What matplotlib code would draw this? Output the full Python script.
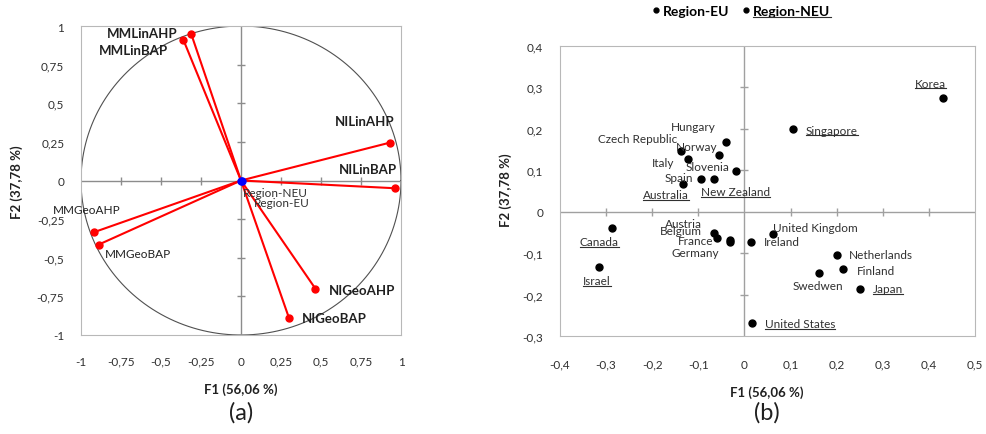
import matplotlib
matplotlib.use('Agg')
import matplotlib.pyplot as plt
from matplotlib.lines import Line2D
from matplotlib.ticker import FuncFormatter
import numpy as np

plt.rcParams['font.family'] = ['Lato', 'DejaVu Sans']

# (a) correlation circle - active variables
var_names = ['MMLinAHP', 'MMLinBAP', 'NILinAHP', 'NILinBAP',
             'MMGeoAHP', 'MMGeoBAP', 'NIGeoAHP', 'NIGeoBAP']
var_f1 = [-0.31, -0.36, 0.93, 0.96, -0.92, -0.89, 0.465, 0.30]
var_f2 = [0.945, 0.91, 0.245, -0.05, -0.335, -0.415, -0.70, -0.89]
# supplementary variables
sup_names = ['Region-NEU', 'Region-EU']
sup_f1 = [0.0, 0.005]
sup_f2 = [0.0, -0.005]

# (b) observations
eu_names = ['Hungary', 'Czech Republic', 'Norway', 'Italy', 'Slovenia', 'Spain',
            'Austria', 'Belgium', 'France', 'Germany', 'Ireland', 'United Kingdom',
            'Netherlands', 'Finland', 'Swedwen']
eu_f1 = [-0.040, -0.137, -0.055, -0.123, -0.018, -0.094,
         -0.065, -0.059, -0.032, -0.032, 0.014, 0.063,
         0.201, 0.213, 0.161]
eu_f2 = [0.168, 0.146, 0.136, 0.127, 0.099, 0.080,
         -0.051, -0.063, -0.067, -0.074, -0.072, -0.053,
         -0.104, -0.139, -0.148]
neu_names = ['Korea', 'Singapore', 'New Zealand', 'Australia', 'Canada',
             'Israel', 'Japan', 'United States']
neu_f1 = [0.430, 0.105, -0.067, -0.133, -0.287, -0.315, 0.251, 0.016]
neu_f2 = [0.274, 0.199, 0.080, 0.068, -0.039, -0.133, -0.186, -0.267]

# label offsets (pixels) and alignment
var_off = {'MMLinAHP': (-14, 1, 'right'), 'MMLinBAP': (-15, -10, 'right'),
           'NILinAHP': (-25, 22, 'center'), 'NILinBAP': (-27, 19, 'center'),
           'MMGeoAHP': (-7, 23, 'center'), 'MMGeoBAP': (6, -9, 'left'),
           'NIGeoAHP': (13, -1, 'left'), 'NIGeoBAP': (13, 0, 'left')}
var_bold = {'MMLinAHP', 'MMLinBAP', 'NILinAHP', 'NILinBAP', 'NIGeoAHP', 'NIGeoBAP'}
sup_off = {'Region-NEU': (2, -12, 'left'), 'Region-EU': (12, -21, 'left')}
obs_off = {'Korea': (-12, 15, 'center'), 'Singapore': (13, -1, 'left'),
           'Hungary': (-33, 16, 'center'), 'Czech Republic': (-44, 13, 'center'),
           'Norway': (-22, 9, 'center'), 'Italy': (-25, -3, 'center'),
           'Slovenia': (-29, 4, 'center'), 'Spain': (-22, 1, 'center'),
           'New Zealand': (22, -13, 'center'), 'Australia': (-17, -11, 'center'),
           'Canada': (-13, -14, 'center'), 'Israel': (-2, -14, 'center'),
           'Austria': (-31, 9, 'center'), 'Belgium': (-36, 7, 'center'),
           'France': (-34, -1, 'center'), 'Germany': (-34, -10, 'center'),
           'Ireland': (13, 0, 'left'), 'United Kingdom': (0, 6, 'left'),
           'Netherlands': (12, 0, 'left'), 'Finland': (14, -1, 'left'),
           'Swedwen': (-1, -12, 'center'), 'Japan': (13, 0, 'left'),
           'United States': (13, -1, 'left')}

comma = FuncFormatter(lambda v, p: ('%g' % round(v, 3)).replace('.', ','))
spine_col = '#b8b8b8'
txt_col = '#303030'

fig = plt.figure(figsize=(9.86, 4.35), dpi=100)
ax1 = fig.add_axes([81/986, 1-336/435, 320/986, 309/435])
ax2 = fig.add_axes([560/986, 1-337.3/435, 415/986, 290.6/435])

# ---------- (a) ----------
ax1.set_xlim(-1, 1)
ax1.set_ylim(-1, 1)
t = np.linspace(0, 2*np.pi, 400)
ax1.plot(np.cos(t), np.sin(t), color='#505050', lw=0.8, zorder=1)
ax1.axhline(0, color='#8c8c8c', lw=1, zorder=1)
ax1.axvline(0, color='#8c8c8c', lw=1, zorder=1)
ticks1 = [-0.75, -0.5, -0.25, 0.25, 0.5, 0.75]
ax1.plot(ticks1, [0]*6, ls='none', marker='|', ms=6, color='#8c8c8c', mew=1)
ax1.plot([0]*6, ticks1, ls='none', marker='_', ms=6, color='#8c8c8c', mew=1)
for n, x, y in zip(var_names, var_f1, var_f2):
    ax1.plot([0, x], [0, y], color='#ff0000', lw=1.5, zorder=2)
    ax1.plot(x, y, 'o', color='#ff0000', ms=5, zorder=3)
    dx, dy, ha = var_off[n]
    ax1.annotate(n, (x, y), xytext=(dx, dy), textcoords='offset pixels',
                 ha=ha, va='center', color='#202020',
                 fontsize=9.5 if n in var_bold else 8.5,
                 fontweight='bold' if n in var_bold else 'normal')
for n, x, y in zip(sup_names, sup_f1, sup_f2):
    ax1.plot(x, y, 'o', color='#0000ff', ms=5, zorder=4)
    dx, dy, ha = sup_off[n]
    ax1.annotate(n, (x, y), xytext=(dx, dy), textcoords='offset pixels',
                 ha=ha, va='center', color=txt_col, fontsize=8.5)
ax1.set_xticks([-1, -0.75, -0.5, -0.25, 0, 0.25, 0.5, 0.75, 1])
ax1.set_yticks([-1, -0.75, -0.5, -0.25, 0, 0.25, 0.5, 0.75, 1])
ax1.xaxis.set_major_formatter(comma)
ax1.yaxis.set_major_formatter(comma)
ax1.tick_params(axis='x', length=0, pad=15, labelsize=8.5, labelcolor=txt_col)
ax1.tick_params(axis='y', length=0, pad=12, labelsize=8.5, labelcolor=txt_col)
for s in ax1.spines.values():
    s.set_color(spine_col)

# ---------- (b) ----------
ax2.set_xlim(-0.4, 0.5)
ax2.set_ylim(-0.3, 0.4)
ax2.axhline(0, color='#a0a0a0', lw=1, zorder=1)
ax2.axvline(0, color='#a0a0a0', lw=1, zorder=1)
xt2 = [-0.3, -0.2, -0.1, 0.1, 0.2, 0.3, 0.4]
yt2 = [-0.2, -0.1, 0.1, 0.2, 0.3]
ax2.plot(xt2, [0]*len(xt2), ls='none', marker='|', ms=6, color='#a0a0a0', mew=1)
ax2.plot([0]*len(yt2), yt2, ls='none', marker='_', ms=6, color='#a0a0a0', mew=1)
ax2.plot(eu_f1, eu_f2, 'o', color='black', ms=5, ls='none', label='Region-EU', zorder=3)
ax2.plot(neu_f1, neu_f2, 'o', color='black', ms=5, ls='none', label='Region-NEU', zorder=3)
underlined = []
for names, xs, ys, ul in [(eu_names, eu_f1, eu_f2, False),
                          (neu_names, neu_f1, neu_f2, True)]:
    for n, x, y in zip(names, xs, ys):
        dx, dy, ha = obs_off[n]
        a = ax2.annotate(n, (x, y), xytext=(dx, dy), textcoords='offset pixels',
                         ha=ha, va='center', color=txt_col, fontsize=8.5)
        if ul:
            underlined.append(a)
ax2.set_xticks([-0.4, -0.3, -0.2, -0.1, 0, 0.1, 0.2, 0.3, 0.4, 0.5])
ax2.set_yticks([-0.3, -0.2, -0.1, 0, 0.1, 0.2, 0.3, 0.4])
ax2.xaxis.set_major_formatter(comma)
ax2.yaxis.set_major_formatter(comma)
ax2.tick_params(axis='x', length=0, pad=16, labelsize=8.5, labelcolor=txt_col)
ax2.tick_params(axis='y', length=0, pad=12, labelsize=8.5, labelcolor=txt_col)
for s in ax2.spines.values():
    s.set_color(spine_col)

leg = ax2.legend(loc='center', bbox_to_anchor=(742/986, 1-12/435),
                 bbox_transform=fig.transFigure, ncol=2, frameon=False,
                 handlelength=0.4, handletextpad=0.3, columnspacing=1.0,
                 markerscale=0.7, prop={'weight': 'bold', 'size': 10})
underlined.append(leg.get_texts()[1])

# axis titles
lab = dict(fontsize=9.5, fontweight='bold', color='#202020', ha='center', va='center')
fig.text(241/986, 1-390/435, 'F1 (56,06 %)', **lab)
fig.text(17/986, 1-182/435, 'F2 (37,78 %)', rotation=90, **lab)
fig.text(767/986, 1-393/435, 'F1 (56,06 %)', **lab)
fig.text(506/986, 1-190/435, 'F2 (37,78 %)', rotation=90, **lab)
fig.text(241/986, 1-413/435, '(a)', fontsize=17, ha='center', va='center', color='#202020')
fig.text(767/986, 1-413/435, '(b)', fontsize=17, ha='center', va='center', color='#202020')

# underline NEU labels
fig.canvas.draw()
r = fig.canvas.get_renderer()
W, H = fig.bbox.width, fig.bbox.height
for a in underlined:
    bb = a.get_window_extent(r)
    yl = bb.y0 + 0.5
    fig.add_artist(Line2D([bb.x0/W, bb.x1/W], [yl/H, yl/H], transform=fig.transFigure,
                          color=txt_col, lw=0.8))

fig.savefig('out.png', dpi=100)
